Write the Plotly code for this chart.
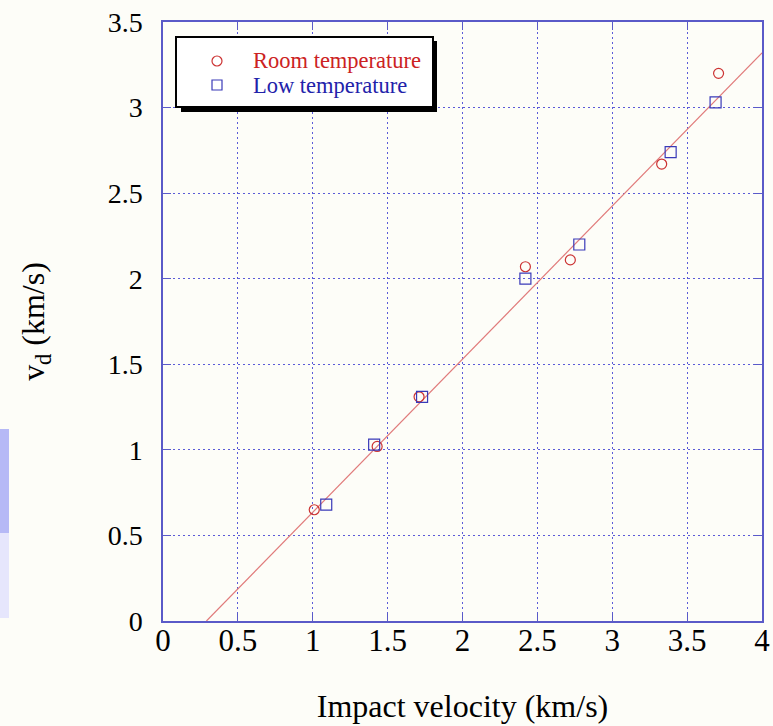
import plotly.graph_objects as go

# ---- data ----
room_x = [1.01, 1.43, 1.71, 2.42, 2.72, 3.33, 3.71]
room_y = [0.65, 1.02, 1.31, 2.07, 2.11, 2.67, 3.20]
low_x = [1.09, 1.41, 1.73, 2.42, 2.78, 3.39, 3.69]
low_y = [0.68, 1.03, 1.31, 2.00, 2.20, 2.74, 3.03]
fit_x = [0.29, 4.0]
fit_y = [0.0, 3.32]
x_ticks = [0, 0.5, 1, 1.5, 2, 2.5, 3, 3.5, 4]
x_tick_labels = ["0", "0.5", "1", "1.5", "2", "2.5", "3", "3.5", "4"]
y_ticks = [0, 0.5, 1, 1.5, 2, 2.5, 3, 3.5]
y_tick_labels = ["0", "0.5", "1", "1.5", "2", "2.5", "3", "3.5"]
series_names = ["Room temperature", "Low temperature"]

W, H = 773, 726
L, R, T, B = 163, 762, 22, 621


def px(x):
    return (x - L) / (R - L)


def py(y):
    return (B - y) / (B - T)


SERIF = "Liberation Serif, Times New Roman, serif"
RED = "#cc3333"
BLUE = "#3a3ab8"
TITLE_FONT = dict(family=SERIF, size=32, color="black")

fig = go.Figure()
fig.add_trace(go.Scatter(x=fit_x, y=fit_y, mode="lines",
                         line=dict(color="#e07a7a", width=1.2),
                         showlegend=False, hoverinfo="skip"))
fig.add_trace(go.Scatter(x=room_x, y=room_y, mode="markers", name=series_names[0],
                         marker=dict(symbol="circle-open", size=10,
                                     color=RED, line=dict(width=1.2, color=RED))))
fig.add_trace(go.Scatter(x=low_x, y=low_y, mode="markers", name=series_names[1],
                         marker=dict(symbol="square-open", size=11,
                                     color=BLUE, line=dict(width=1.2, color=BLUE))))

shapes = [
    # slide decoration at left edge
    dict(type="rect", xref="paper", yref="paper", x0=px(0), x1=px(9), y0=py(429), y1=py(533),
         fillcolor="#b6b9f6", line=dict(width=0), layer="below"),
    dict(type="rect", xref="paper", yref="paper", x0=px(0), x1=px(9), y0=py(533), y1=py(618),
         fillcolor="#e6e6fc", line=dict(width=0), layer="below"),
    # legend shadow
    dict(type="rect", xref="paper", yref="paper", x0=px(181), x1=px(437), y0=py(41), y1=py(112),
         fillcolor="black", line=dict(width=0), layer="above"),
    # legend box
    dict(type="rect", xref="paper", yref="paper", x0=px(176), x1=px(433), y0=py(37), y1=py(107),
         fillcolor="white", line=dict(width=2, color="black"), layer="above"),
    # legend symbols
    dict(type="circle", xref="paper", yref="paper", x0=px(212), x1=px(222), y0=py(56), y1=py(66),
         fillcolor="rgba(0,0,0,0)", line=dict(width=1.2, color=RED), layer="above"),
    dict(type="rect", xref="paper", yref="paper", x0=px(212), x1=px(222), y0=py(80), y1=py(90),
         fillcolor="rgba(0,0,0,0)", line=dict(width=1.2, color=BLUE), layer="above"),
]

annotations = [
    dict(text=series_names[0], xref="paper", yref="paper", x=px(251), y=py(61),
         xanchor="left", yanchor="middle", showarrow=False,
         font=dict(family=SERIF, size=22.5, color="#cc2222")),
    dict(text=series_names[1], xref="paper", yref="paper", x=px(251), y=py(85),
         xanchor="left", yanchor="middle", showarrow=False,
         font=dict(family=SERIF, size=22.5, color="#2222aa")),
]

axis_common = dict(
    showline=True, linecolor="#5a5ac8", linewidth=1.5, mirror="ticks",
    ticks="inside", ticklen=8, tickcolor="#5a5ac8", tickwidth=1,
    showgrid=True, gridcolor="#5b5bd8", griddash="2px,3px", gridwidth=1,
    zeroline=False, automargin=False,
)

fig.update_layout(
    width=W, height=H,
    margin=dict(l=L, r=W - R, t=T, b=H - B),
    paper_bgcolor="#fdfdf8", plot_bgcolor="#fdfdf8",
    font=dict(family=SERIF),
    shapes=shapes, annotations=annotations,
    xaxis=dict(range=[0, 4], tickvals=x_ticks, ticktext=x_tick_labels,
               tickfont=dict(family=SERIF, size=31, color="black"),
               ticklabelstandoff=-9,
               title=dict(text="Impact velocity (km/s)", standoff=38, font=TITLE_FONT),
               **axis_common),
    yaxis=dict(range=[0, 3.5], tickvals=y_ticks, ticktext=y_tick_labels,
               tickfont=dict(family=SERIF, size=28, color="black"),
               ticklabelstandoff=13,
               title=dict(text="v<sub>d</sub> (km/s)", standoff=53, font=TITLE_FONT),
               **axis_common),
    showlegend=False,
)

fig.write_html("out.html", config={"displayModeBar": False},
               post_script="document.body.style.margin='0';")
